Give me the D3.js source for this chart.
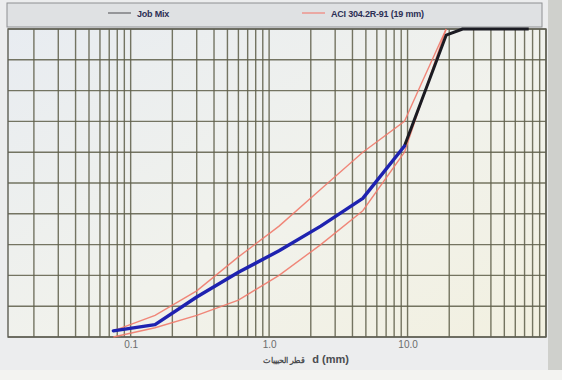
<!DOCTYPE html>
<html><head><meta charset="utf-8">
<script src="https://cdn.jsdelivr.net/npm/d3@7"></script>
<style>html,body{margin:0;padding:0;background:#e3e4e2;} svg{display:block}</style>
</head><body>
<script>
// ---- data ----
const sieves = [0.075, 0.15, 0.3, 0.6, 1.18, 2.36, 4.75, 9.5, 19, 25, 37.5, 75];
const jobMix = [2, 4, 13, 21, 28, 36, 45, 62, 98, 100, 100, 100];
const blueCount = 8; // highlighted (blue) part of the job mix curve
const limitSieves = [0.075, 0.15, 0.3, 0.6, 1.18, 2.36, 4.75, 9.5, 12.5, 19];
const aciUpper = [2, 7, 15, 26, 36, 48, 60, 70, 82, 100];
const aciLower = [0, 3, 7, 12, 20, 30, 41, 60, 76, 100];
const xTickValues = [0.1, 1, 10];
const xTickLabels = ["0.1", "1.0", "10.0"];
const yGridValues = d3.range(0, 101, 10);
const legendLabels = ["Job Mix", "ACI 304.2R-91  (19 mm)"];
const xTitleAr = "قطر الحبيبات";
const xTitleEn = "d (mm)";

// ---- layout ----
const W = 562, H = 380;
const plot = {left: 8, right: 546, top: 29, bottom: 337};

const svg = d3.select("body").append("svg").attr("width", W).attr("height", H);
const defs = svg.append("defs");
const bg = defs.append("linearGradient").attr("id", "bg")
  .attr("x1", "0").attr("y1", "0").attr("x2", "1").attr("y2", "1");
bg.append("stop").attr("offset", "0").attr("stop-color", "#e8ecf1");
bg.append("stop").attr("offset", "0.55").attr("stop-color", "#f1f2ec");
bg.append("stop").attr("offset", "1").attr("stop-color", "#f2f0e0");

// outer background
svg.append("rect").attr("width", W).attr("height", H).attr("fill", "#e9eae8");
svg.append("rect").attr("x", 0).attr("y", 0).attr("width", 548).attr("height", 372).attr("fill", "#ecedee");
svg.append("rect").attr("x", 548).attr("y", 0).attr("width", 14).attr("height", H).attr("fill", "#cfd0cc");
svg.append("rect").attr("x", 0).attr("y", 370).attr("width", W).attr("height", 10).attr("fill", "#f3f3f1");

// legend band
svg.append("rect").attr("x", 7).attr("y", 3).attr("width", 535).attr("height", 24)
  .attr("fill", "#dfe1e3").attr("stroke", "#8e9092").attr("stroke-width", 1);

const x = d3.scaleLog().domain([0.013, 100]).range([plot.left, plot.right]);
const y = d3.scaleLinear().domain([0, 100]).range([plot.bottom, plot.top]);

// plot background
svg.append("rect").attr("x", plot.left).attr("y", plot.top)
  .attr("width", plot.right - plot.left).attr("height", plot.bottom - plot.top)
  .attr("fill", "url(#bg)");

// grid
const gridColor = "#5f5f4a";
const vTicks = x.ticks().filter(v => v >= 0.02 && v <= 100);
svg.append("g").selectAll("line").data(vTicks).join("line")
  .attr("x1", d => x(d)).attr("x2", d => x(d))
  .attr("y1", plot.top).attr("y2", plot.bottom)
  .attr("stroke", gridColor).attr("stroke-width", 1.4).attr("opacity", 0.85);
svg.append("g").selectAll("line").data(yGridValues).join("line")
  .attr("x1", plot.left).attr("x2", plot.right)
  .attr("y1", d => y(d)).attr("y2", d => y(d))
  .attr("stroke", gridColor).attr("stroke-width", 1.4).attr("opacity", 0.85);

// frame
svg.append("rect").attr("x", plot.left).attr("y", plot.top)
  .attr("width", plot.right - plot.left).attr("height", plot.bottom - plot.top)
  .attr("fill", "none").attr("stroke", "#5e5e54").attr("stroke-width", 1.4);

// x axis labels
const xAxis = d3.axisBottom(x).tickValues(xTickValues)
  .tickFormat((d, i) => xTickLabels[i]).tickSize(0).tickPadding(4);
const gx = svg.append("g").attr("transform", `translate(0,${plot.bottom})`).call(xAxis);
gx.select(".domain").remove();
gx.selectAll("text").attr("font-family", "Liberation Sans, Arial, sans-serif")
  .attr("font-size", 10).attr("fill", "#6a6c6c");

// axis title
const title = svg.append("text").attr("x", 306).attr("y", 363).attr("text-anchor", "middle")
  .attr("font-family", "Liberation Sans, Arial, sans-serif").attr("font-weight", "bold")
  .attr("fill", "#4a4c50");
title.append("tspan").attr("font-size", 8).text(xTitleAr);
title.append("tspan").attr("font-size", 11).attr("dx", 7).text(xTitleEn);

// curves
const line = d3.line().x(d => x(d[0])).y(d => y(d[1]));
const upperPts = limitSieves.map((s, i) => [s, aciUpper[i]]);
const lowerPts = limitSieves.map((s, i) => [s, aciLower[i]]);
const mixPts = sieves.map((s, i) => [s, jobMix[i]]);

[upperPts, lowerPts].forEach(p => {
  svg.append("path").attr("d", line(p)).attr("fill", "none")
    .attr("stroke", "#f07a6c").attr("stroke-width", 1.4).attr("opacity", 0.9);
});
svg.append("path").attr("d", line(mixPts.slice(blueCount - 1))).attr("fill", "none")
  .attr("stroke", "#1b1b22").attr("stroke-width", 3).attr("stroke-linejoin", "round");
svg.append("path").attr("d", line(mixPts.slice(0, blueCount))).attr("fill", "none")
  .attr("stroke", "#1e22b0").attr("stroke-width", 3.4).attr("stroke-linejoin", "round")
  .attr("stroke-linecap", "round");

// legend
const legendItems = [
  {label: legendLabels[0], color: "#6c6e72", x0: 108},
  {label: legendLabels[1], color: "#f08a80", x0: 302}
];
const lg = svg.append("g").selectAll("g").data(legendItems).join("g");
lg.append("line").attr("x1", d => d.x0).attr("x2", d => d.x0 + 23)
  .attr("y1", 13).attr("y2", 13).attr("stroke", d => d.color).attr("stroke-width", 1.3);
lg.append("text").attr("x", d => d.x0 + 29).attr("y", 16.5)
  .attr("font-family", "Liberation Sans, Arial, sans-serif").attr("font-size", 9)
  .attr("font-weight", "bold").attr("letter-spacing", -0.2)
  .attr("fill", "#2c2f55").text(d => d.label);
</script>
</body></html>
